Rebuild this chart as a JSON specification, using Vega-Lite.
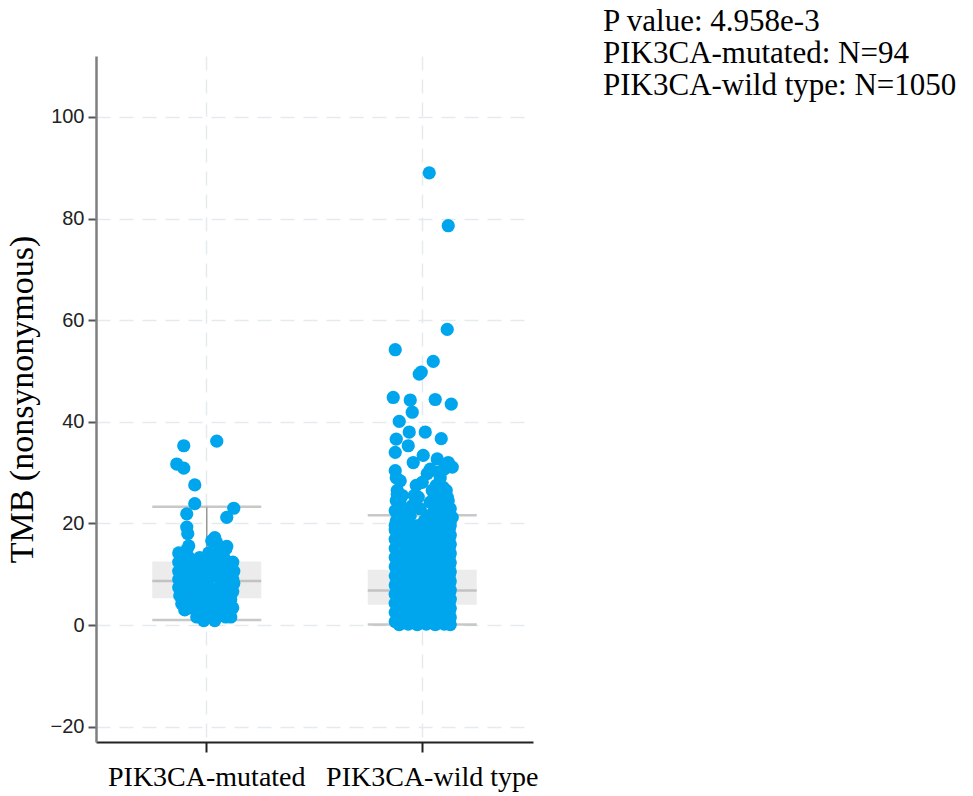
{
  "$schema": "https://vega.github.io/schema/vega-lite/v6.json",
  "width": 437,
  "height": 686,
  "autosize": {"type": "none"},
  "padding": {"left": 96, "top": 56, "right": 440, "bottom": 54},
  "background": "white",
  "config": {"view": {"stroke": null}},
  "title": {
    "text": ["P value: 4.958e-3", "PIK3CA-mutated: N=94", "PIK3CA-wild type: N=1050"],
    "orient": "top",
    "anchor": "start",
    "frame": "group",
    "font": "Liberation Serif",
    "fontSize": 31,
    "fontWeight": "normal",
    "color": "#000000",
    "lineHeight": 32,
    "baseline": "top",
    "offset": 0,
    "dx": 507,
    "dy": 46
  },
  "datasets": {
    "box": [
      {"g": "PIK3CA-mutated", "lo": 1.0, "q1": 5.3, "med": 8.7, "q3": 12.5, "hi": 23.3},
      {"g": "PIK3CA-wild type", "lo": 0.1, "q1": 4.0, "med": 6.8, "q3": 10.9, "hi": 21.6}
    ],
    "mut": [
      {"v":35.3,"j":-23},{"v":36.2,"j":10},{"v":31.7,"j":-30},{"v":30.9,"j":-23},{"v":27.6,"j":-12},{"v":23.9,"j":-12},{"v":21.9,"j":-20},{"v":23.0,"j":27},{"v":21.2,"j":20},{"v":19.3,"j":-20},{"v":18.0,"j":-19},{"v":15.6,"j":-18},{"v":16.6,"j":5},{"v":15.5,"j":20},{"v":16.2,"j":10},{"v":17.2,"j":8},
      {"v":14.2,"j":-28},{"v":14.2,"j":-22},{"v":14.2,"j":2},{"v":14.2,"j":12},
      {"v":13.3,"j":-26},{"v":13.3,"j":-18},{"v":13.3,"j":-7},{"v":13.3,"j":7},{"v":13.3,"j":17},
      {"v":12.4,"j":-28},{"v":12.4,"j":-12},{"v":12.4,"j":-2},{"v":12.4,"j":10},{"v":12.4,"j":20},{"v":12.4,"j":26},
      {"v":11.5,"j":-24},{"v":11.5,"j":-17},{"v":11.5,"j":0},{"v":11.5,"j":15},{"v":11.5,"j":24},
      {"v":10.6,"j":-28},{"v":10.6,"j":-10},{"v":10.6,"j":5},{"v":10.6,"j":19},{"v":10.6,"j":27},
      {"v":9.8,"j":-21},{"v":9.8,"j":-4},{"v":9.8,"j":9},{"v":9.8,"j":22},
      {"v":9.0,"j":-28},{"v":9.0,"j":-15},{"v":9.0,"j":2},{"v":9.0,"j":14},{"v":9.0,"j":26},
      {"v":8.2,"j":-24},{"v":8.2,"j":-8},{"v":8.2,"j":17},{"v":8.2,"j":27},
      {"v":7.4,"j":-28},{"v":7.4,"j":-17},{"v":7.4,"j":-2},{"v":7.4,"j":12},{"v":7.4,"j":22},
      {"v":6.6,"j":-22},{"v":6.6,"j":-10},{"v":6.6,"j":20},{"v":6.6,"j":26},
      {"v":5.8,"j":-27},{"v":5.8,"j":-15},{"v":5.8,"j":-5},{"v":5.8,"j":17},
      {"v":5.0,"j":-20},{"v":5.0,"j":0},{"v":5.0,"j":10},{"v":5.0,"j":24},
      {"v":4.2,"j":-25},{"v":4.2,"j":-12},{"v":4.2,"j":5},{"v":4.2,"j":19},
      {"v":3.4,"j":-17},{"v":3.4,"j":-5},{"v":3.4,"j":12},{"v":3.4,"j":26},
      {"v":2.5,"j":-8},{"v":2.5,"j":3},{"v":2.5,"j":15},{"v":2.5,"j":23},
      {"v":1.6,"j":-10},{"v":1.6,"j":2},{"v":1.6,"j":19},{"v":1.6,"j":24},
      {"v":0.9,"j":-3},{"v":0.9,"j":8},
      {"v":15.0,"j":19},{"v":14.8,"j":-20},{"v":10.2,"j":-17},{"v":7.0,"j":5},{"v":3.0,"j":-22}
    ],
    "wt": [
      {"v":89.0,"j":7},{"v":78.6,"j":26},{"v":58.2,"j":25},{"v":54.2,"j":-27},{"v":51.9,"j":11},{"v":49.8,"j":-1},{"v":49.4,"j":-3},{"v":44.8,"j":-29},{"v":44.3,"j":-12},{"v":44.4,"j":13},{"v":43.5,"j":29},{"v":41.9,"j":-10},{"v":40.1,"j":-23},{"v":38.0,"j":-13},{"v":38.0,"j":3},{"v":36.6,"j":-26},{"v":36.7,"j":19},{"v":35.3,"j":-14},{"v":34.0,"j":-27},{"v":33.4,"j":1},{"v":32.7,"j":15},{"v":32.0,"j":26},{"v":31.1,"j":30},{"v":32.0,"j":-9},{"v":30.4,"j":-27},{"v":28.4,"j":-22},{"v":29.8,"j":5},{"v":30.1,"j":16},{"v":28.1,"j":0},{"v":27.1,"j":21},{"v":25.8,"j":-25},{"v":25.2,"j":25},{"v":25.2,"j":-4},{"v":24.2,"j":8},{"v":23.9,"j":-22},{"v":22.9,"j":28},{"v":22.9,"j":-2},{"v":21.2,"j":30},
      {"v":20.5,"j":-26},{"v":20.5,"j":-18},{"v":20.5,"j":2},{"v":20.5,"j":12},{"v":20.5,"j":22},{"v":20.5,"j":28},
      {"v":21.5,"j":-24},{"v":21.5,"j":-12},{"v":21.5,"j":6},{"v":21.5,"j":16},{"v":21.5,"j":26},
      {"v":22.5,"j":-27},{"v":22.5,"j":-16},{"v":22.5,"j":12},
      {"v":23.5,"j":-10},{"v":23.5,"j":20},
      {"v":24.5,"j":-26},{"v":24.5,"j":14},{"v":24.5,"j":26},
      {"v":25.5,"j":-20},{"v":25.5,"j":-8},{"v":25.5,"j":18},
      {"v":26.5,"j":-25},{"v":26.5,"j":10},{"v":26.5,"j":24},
      {"v":27.5,"j":-6},{"v":27.5,"j":14},
      {"v":29.0,"j":-26},{"v":29.0,"j":18},
      {"v":30.7,"j":8},{"v":30.7,"j":22},
      {"v":19.6,"j":-27},{"v":19.6,"j":-20},{"v":19.6,"j":-12},{"v":19.6,"j":-4},{"v":19.6,"j":4},{"v":19.6,"j":12},{"v":19.6,"j":20},{"v":19.6,"j":28},
      {"v":18.7,"j":-27},{"v":18.6,"j":-18},{"v":18.8,"j":-9},{"v":18.7,"j":0},{"v":18.6,"j":9},{"v":18.7,"j":18},{"v":18.8,"j":27},
      {"v":17.8,"j":-23},{"v":17.9,"j":-14},{"v":17.7,"j":-5},{"v":17.8,"j":4},{"v":17.9,"j":13},{"v":17.8,"j":22},{"v":17.7,"j":28},
      {"v":16.9,"j":-27},{"v":16.8,"j":-18},{"v":17.0,"j":-9},{"v":16.9,"j":0},{"v":16.8,"j":9},{"v":16.9,"j":18},{"v":17.0,"j":27},
      {"v":16.0,"j":-23},{"v":16.1,"j":-14},{"v":15.9,"j":-5},{"v":16.0,"j":4},{"v":16.1,"j":13},{"v":16.0,"j":22},{"v":15.9,"j":28},
      {"v":15.1,"j":-27},{"v":15.0,"j":-18},{"v":15.2,"j":-9},{"v":15.1,"j":0},{"v":15.0,"j":9},{"v":15.1,"j":18},{"v":15.2,"j":27},
      {"v":14.2,"j":-23},{"v":14.3,"j":-14},{"v":14.1,"j":-5},{"v":14.2,"j":4},{"v":14.3,"j":13},{"v":14.2,"j":22},{"v":14.1,"j":28},
      {"v":13.3,"j":-27},{"v":13.2,"j":-18},{"v":13.4,"j":-9},{"v":13.3,"j":0},{"v":13.2,"j":9},{"v":13.3,"j":18},{"v":13.4,"j":27},
      {"v":12.4,"j":-23},{"v":12.5,"j":-14},{"v":12.3,"j":-5},{"v":12.4,"j":4},{"v":12.5,"j":13},{"v":12.4,"j":22},{"v":12.3,"j":28},
      {"v":11.5,"j":-27},{"v":11.4,"j":-18},{"v":11.6,"j":-9},{"v":11.5,"j":0},{"v":11.4,"j":9},{"v":11.5,"j":18},{"v":11.6,"j":27},
      {"v":10.6,"j":-23},{"v":10.7,"j":-14},{"v":10.5,"j":-5},{"v":10.6,"j":4},{"v":10.7,"j":13},{"v":10.6,"j":22},{"v":10.5,"j":28},
      {"v":9.7,"j":-27},{"v":9.6,"j":-18},{"v":9.8,"j":-9},{"v":9.7,"j":0},{"v":9.6,"j":9},{"v":9.7,"j":18},{"v":9.8,"j":27},
      {"v":8.8,"j":-23},{"v":8.9,"j":-14},{"v":8.7,"j":-5},{"v":8.8,"j":4},{"v":8.9,"j":13},{"v":8.8,"j":22},{"v":8.7,"j":28},
      {"v":7.9,"j":-27},{"v":7.8,"j":-18},{"v":8.0,"j":-9},{"v":7.9,"j":0},{"v":7.8,"j":9},{"v":7.9,"j":18},{"v":8.0,"j":27},
      {"v":7.0,"j":-23},{"v":7.1,"j":-14},{"v":6.9,"j":-5},{"v":7.0,"j":4},{"v":7.1,"j":13},{"v":7.0,"j":22},{"v":6.9,"j":28},
      {"v":6.1,"j":-27},{"v":6.0,"j":-18},{"v":6.2,"j":-9},{"v":6.1,"j":0},{"v":6.0,"j":9},{"v":6.1,"j":18},{"v":6.2,"j":27},
      {"v":5.2,"j":-23},{"v":5.3,"j":-14},{"v":5.1,"j":-5},{"v":5.2,"j":4},{"v":5.3,"j":13},{"v":5.2,"j":22},{"v":5.1,"j":28},
      {"v":4.3,"j":-27},{"v":4.2,"j":-18},{"v":4.4,"j":-9},{"v":4.3,"j":0},{"v":4.2,"j":9},{"v":4.3,"j":18},{"v":4.4,"j":27},
      {"v":3.4,"j":-23},{"v":3.5,"j":-14},{"v":3.3,"j":-5},{"v":3.4,"j":4},{"v":3.5,"j":13},{"v":3.4,"j":22},{"v":3.3,"j":28},
      {"v":2.5,"j":-27},{"v":2.4,"j":-18},{"v":2.6,"j":-9},{"v":2.5,"j":0},{"v":2.4,"j":9},{"v":2.5,"j":18},{"v":2.6,"j":27},
      {"v":1.6,"j":-23},{"v":1.7,"j":-14},{"v":1.5,"j":-5},{"v":1.6,"j":4},{"v":1.7,"j":13},{"v":1.6,"j":22},{"v":1.5,"j":28},
      {"v":0.7,"j":-27},{"v":0.6,"j":-18},{"v":0.8,"j":-9},{"v":0.7,"j":0},{"v":0.6,"j":9},{"v":0.7,"j":18},{"v":0.8,"j":27},
      {"v":0.1,"j":-23},{"v":0.2,"j":-14},{"v":0.1,"j":-5},{"v":0.2,"j":4},{"v":0.1,"j":13},{"v":0.2,"j":22},{"v":0.1,"j":28}
    ]
  },
  "layer": [
    {
      "data": {"name": "box"},
      "mark": {"type": "bar", "color": "#ececec", "width": 109},
      "encoding": {
        "x": {
          "field": "g", "type": "nominal",
          "scale": {"type": "band", "domain": ["PIK3CA-mutated", "PIK3CA-wild type"], "paddingInner": 0, "paddingOuter": 0.014},
          "axis": {
            "title": null, "labelAngle": 0, "labelFont": "Liberation Serif", "labelFontSize": 28, "labelColor": "#000000", "labelLimit": 0,
            "labelOffset": {"condition": {"test": "datum.value == 'PIK3CA-wild type'", "value": 10}, "value": 0},
            "labelPadding": 11, "tickSize": 10, "tickWidth": 2, "tickColor": "#222222", "domainColor": "#222222", "domainWidth": 2,
            "grid": true, "gridColor": "#e4eaee", "gridDash": [14, 9], "gridWidth": 1.5, "bandPosition": 0.5
          }
        },
        "y": {
          "field": "q1", "type": "quantitative",
          "scale": {"domain": [-23, 112], "nice": false, "zero": false},
          "axis": {
            "values": [-20, 0, 20, 40, 60, 80, 100], "title": "TMB (nonsynonymous)",
            "titleFont": "Liberation Serif", "titleFontSize": 34, "titleFontWeight": "normal", "titleColor": "#000000", "titlePadding": 11,
            "labelFont": "Liberation Sans", "labelFontSize": 20, "labelColor": "#222222", "labelPadding": 4,
            "tickSize": 8, "tickWidth": 2, "tickColor": "#555555", "domainColor": "#7f7f7f", "domainWidth": 2.5,
            "grid": true, "gridColor": "#e4eaee", "gridDash": [14, 9], "gridWidth": 1.5
          }
        },
        "y2": {"field": "q3"}
      }
    },
    {
      "data": {"name": "box"},
      "mark": {"type": "rule", "color": "#999999", "strokeWidth": 1.5},
      "encoding": {
        "x": {"field": "g", "type": "nominal"},
        "y": {"field": "q3", "type": "quantitative"},
        "y2": {"field": "hi"}
      }
    },
    {
      "data": {"name": "box"},
      "mark": {"type": "rule", "color": "#999999", "strokeWidth": 1.5},
      "encoding": {
        "x": {"field": "g", "type": "nominal"},
        "y": {"field": "lo", "type": "quantitative"},
        "y2": {"field": "q1"}
      }
    },
    {
      "data": {"name": "box"},
      "transform": [{"fold": ["lo", "med", "hi"], "as": ["stat", "val"]}],
      "mark": {"type": "tick", "color": "#b0b0b0", "thickness": 2.5, "size": 109},
      "encoding": {
        "x": {"field": "g", "type": "nominal"},
        "y": {"field": "val", "type": "quantitative"}
      }
    },
    {
      "data": {"name": "mut"},
      "mark": {"type": "circle", "size": 175, "color": "#00a6ed", "opacity": 1},
      "encoding": {
        "x": {"datum": "PIK3CA-mutated", "type": "nominal"},
        "xOffset": {"field": "j", "type": "quantitative", "scale": {"domain": [-107.74, 107.74], "range": [0, 215.48]}},
        "y": {"field": "v", "type": "quantitative"}
      }
    },
    {
      "data": {"name": "wt"},
      "mark": {"type": "circle", "size": 175, "color": "#00a6ed", "opacity": 1},
      "encoding": {
        "x": {"datum": "PIK3CA-wild type", "type": "nominal"},
        "xOffset": {"field": "j", "type": "quantitative"},
        "y": {"field": "v", "type": "quantitative"}
      }
    }
  ]
}
